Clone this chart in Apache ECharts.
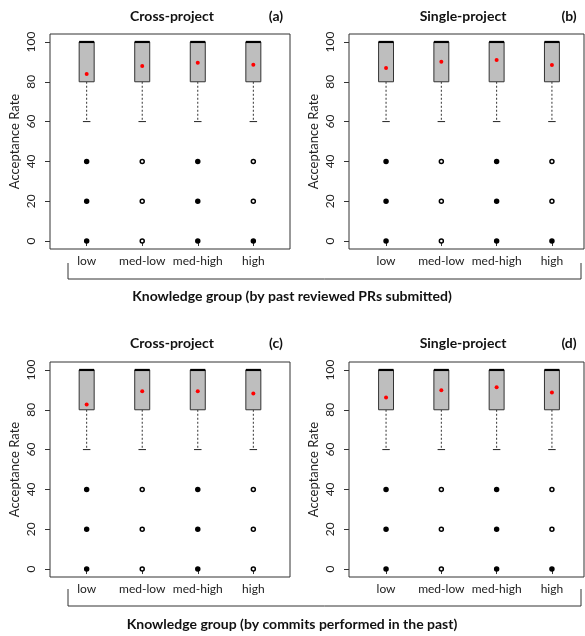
<!DOCTYPE html>
<html>
<head>
<meta charset="utf-8">
<script src="https://cdn.jsdelivr.net/npm/echarts@6/dist/echarts.min.js"></script>
<style>
html,body{margin:0;padding:0;background:#fff;}
#chart{width:585px;height:636px;}
</style>
</head>
<body>
<div id="chart"></div>
<script>
// ---------- data ----------
const categories = ['low', 'med-low', 'med-high', 'high'];
const yTicks = [0, 20, 40, 60, 80, 100];
const panelTitles = ['Cross-project', 'Single-project', 'Cross-project', 'Single-project'];
const panelTags = ['(a)', '(b)', '(c)', '(d)'];
const groupLabels = ['Knowledge group (by past reviewed PRs submitted)', 'Knowledge group (by commits performed in the past)'];
const yAxisTitle = 'Acceptance Rate';

// box stats per category: [lower whisker, Q1, median, Q3, upper whisker]
const boxA = [[60, 80, 100, 100, 100], [60, 80, 100, 100, 100], [60, 80, 100, 100, 100], [60, 80, 100, 100, 100]];
const boxB = [[60, 80, 100, 100, 100], [60, 80, 100, 100, 100], [60, 80, 100, 100, 100], [60, 80, 100, 100, 100]];
const boxC = [[60, 80, 100, 100, 100], [60, 80, 100, 100, 100], [60, 80, 100, 100, 100], [60, 80, 100, 100, 100]];
const boxD = [[60, 80, 100, 100, 100], [60, 80, 100, 100, 100], [60, 80, 100, 100, 100], [60, 80, 100, 100, 100]];

// mean acceptance rate per category
const meanA = [83.9, 87.9, 89.5, 88.6];
const meanB = [86.9, 90.0, 91.0, 88.4];
const meanC = [82.7, 89.3, 89.3, 88.2];
const meanD = [86.2, 89.8, 91.3, 88.7];

// outlier values (same in every group)
const outlierValues = [40, 20, 0];
// heavy overplotting flags per category, rows follow outlierValues
const overplotA = [[1, 0, 1, 0], [1, 0, 1, 0], [1, 0, 1, 1]];
const overplotB = [[1, 0, 1, 0], [1, 0, 1, 0], [1, 0, 1, 1]];
const overplotC = [[1, 0, 1, 0], [1, 0, 1, 0], [1, 0, 1, 0]];
const overplotD = [[1, 0, 1, 0], [1, 0, 1, 0], [1, 0, 1, 1]];

// ---------- chart ----------
const boxes = [boxA, boxB, boxC, boxD];
const means = [meanA, meanB, meanC, meanD];
const overplots = [overplotA, overplotB, overplotC, overplotD];

const FONT = 'Lato, "Noto Sans", sans-serif';
const gridPos = [
  {left: 50, top: 34, width: 240, height: 215},
  {left: 349, top: 34, width: 235, height: 215},
  {left: 50, top: 362, width: 240, height: 215},
  {left: 349, top: 362, width: 235, height: 215}
];
const xRanges = [[0.34, 4.66], [0.33, 4.58], [0.34, 4.66], [0.33, 4.58]];
const catX = categories.map((c, i) => i + 1);

function renderBox(params, api) {
  const x = api.value(0);
  const wl = api.value(1), q1 = api.value(2), med = api.value(3), q3 = api.value(4), wh = api.value(5);
  const half = api.size([0.27, 0])[0] / 2;
  const pWL = api.coord([x, wl]);
  const pQ1 = api.coord([x, q1]);
  const pMed = api.coord([x, med]);
  const pQ3 = api.coord([x, q3]);
  const pWH = api.coord([x, wh]);
  const children = [];
  children.push({type: 'line', shape: {x1: pQ1[0], y1: pQ1[1], x2: pWL[0], y2: pWL[1]},
    style: {stroke: '#333', lineWidth: 1, lineDash: [2, 2]}});
  children.push({type: 'line', shape: {x1: pWL[0] - half / 2, y1: pWL[1], x2: pWL[0] + half / 2, y2: pWL[1]},
    style: {stroke: '#222', lineWidth: 1}});
  if (wh > q3) {
    children.push({type: 'line', shape: {x1: pQ3[0], y1: pQ3[1], x2: pWH[0], y2: pWH[1]},
      style: {stroke: '#333', lineWidth: 1, lineDash: [2, 2]}});
    children.push({type: 'line', shape: {x1: pWH[0] - half / 2, y1: pWH[1], x2: pWH[0] + half / 2, y2: pWH[1]},
      style: {stroke: '#222', lineWidth: 1}});
  }
  children.push({type: 'rect', shape: {x: pQ1[0] - half, y: pQ3[1], width: 2 * half, height: pQ1[1] - pQ3[1]},
    style: {fill: '#bebebe', stroke: '#333', lineWidth: 1}});
  children.push({type: 'line', shape: {x1: pMed[0] - half, y1: pMed[1], x2: pMed[0] + half, y2: pMed[1]},
    style: {stroke: '#000', lineWidth: 2.2}});
  return {type: 'group', children: children};
}

const grids = [], xAxes = [], yAxes = [], series = [];
for (let p = 0; p < 4; p++) {
  grids.push(Object.assign({show: true, borderColor: '#333', borderWidth: 1, backgroundColor: 'transparent'}, gridPos[p]));
  xAxes.push({
    type: 'value', gridIndex: p, min: xRanges[p][0], max: xRanges[p][1],
    axisLine: {show: false}, splitLine: {show: false},
    axisTick: {show: true, customValues: catX, length: 5, lineStyle: {color: '#333'}},
    axisLabel: {show: true, customValues: catX, margin: 6, fontFamily: FONT, fontSize: 12, color: '#222',
      formatter: v => categories[Math.round(v) - 1]}
  });
  yAxes.push({
    type: 'value', gridIndex: p, min: -4, max: 104,
    axisLine: {show: false}, splitLine: {show: false},
    axisTick: {show: true, customValues: yTicks, length: 5, lineStyle: {color: '#333'}},
    axisLabel: {show: true, customValues: yTicks, rotate: 90, margin: 13, fontFamily: FONT, fontSize: 12, color: '#222'},
    name: yAxisTitle, nameLocation: 'middle', nameRotate: 90, nameGap: 29,
    nameTextStyle: {fontFamily: FONT, fontSize: 13, color: '#222'}
  });
  series.push({
    type: 'custom', xAxisIndex: p, yAxisIndex: p, renderItem: renderBox,
    data: boxes[p].map((b, i) => [catX[i]].concat(b)),
    encode: {x: 0, y: [1, 2, 3, 4, 5]}, z: 2
  });
  const outData = [];
  outlierValues.forEach((v, r) => {
    catX.forEach((x, i) => outData.push([x, v, overplots[p][r][i]]));
  });
  series.push({
    type: 'scatter', xAxisIndex: p, yAxisIndex: p, symbol: 'circle', symbolSize: 4,
    data: outData,
    itemStyle: {color: params => params.data[2] ? '#000' : '#fff', borderColor: '#000', borderWidth: 1.5, opacity: 1},
    z: 3
  });
  series.push({
    type: 'scatter', xAxisIndex: p, yAxisIndex: p, symbol: 'circle', symbolSize: 4,
    data: means[p].map((m, i) => [catX[i], m]),
    itemStyle: {color: '#ff0000', opacity: 1}, z: 4
  });
}

const titleCenters = [[172, 16], [463, 16], [172, 343], [463, 343]];
const tagCenters = [[276, 16], [569, 16], [276, 343], [569, 343]];
const graphics = [];
for (let p = 0; p < 4; p++) {
  graphics.push({type: 'text', x: titleCenters[p][0], y: titleCenters[p][1],
    style: {text: panelTitles[p], font: 'bold 14px ' + FONT, fill: '#111', textAlign: 'center', textVerticalAlign: 'middle'}});
  graphics.push({type: 'text', x: tagCenters[p][0], y: tagCenters[p][1],
    style: {text: panelTags[p], font: 'bold 14px ' + FONT, fill: '#111', textAlign: 'center', textVerticalAlign: 'middle'}});
}
[[263, 279, 296], [589, 606, 624]].forEach((b, k) => {
  graphics.push({type: 'polyline', shape: {points: [[68, b[0]], [68, b[1]], [581, b[1]], [581, b[0]]]},
    style: {stroke: '#333', lineWidth: 1, fill: null}});
  graphics.push({type: 'text', x: 292, y: b[2],
    style: {text: groupLabels[k], font: 'bold 14px ' + FONT, fill: '#111', textAlign: 'center', textVerticalAlign: 'middle'}});
});

const chart = echarts.init(document.getElementById('chart'), null, {renderer: 'canvas'});
chart.setOption({
  animation: false,
  backgroundColor: '#fff',
  grid: grids, xAxis: xAxes, yAxis: yAxes, series: series,
  graphic: graphics
});
</script>
</body>
</html>
